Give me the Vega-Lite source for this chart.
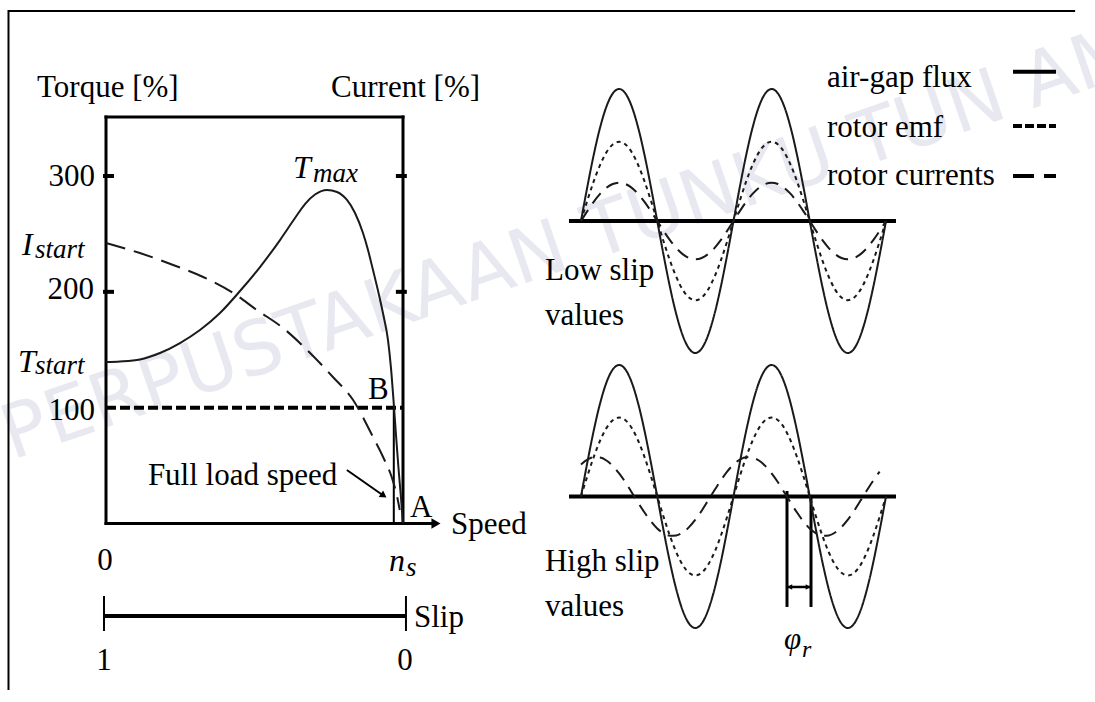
{
  "$schema": "https://vega.github.io/schema/vega-lite/v6.json",
  "width": 1095,
  "height": 702,
  "autosize": {"type": "none"},
  "padding": 0,
  "background": "white",
  "view": {"stroke": null},
  "config": {"view": {"stroke": null}, "text": {"font": "Liberation Serif", "color": "#000"}},
  "datasets": {
    "low": [
      {"x":0,"y":0,"s":"f"},{"x":15,"y":0.259,"s":"f"},{"x":30,"y":0.5,"s":"f"},{"x":45,"y":0.707,"s":"f"},{"x":60,"y":0.866,"s":"f"},{"x":75,"y":0.966,"s":"f"},{"x":90,"y":1,"s":"f"},{"x":105,"y":0.966,"s":"f"},{"x":120,"y":0.866,"s":"f"},{"x":135,"y":0.707,"s":"f"},{"x":150,"y":0.5,"s":"f"},{"x":165,"y":0.259,"s":"f"},{"x":180,"y":0,"s":"f"},{"x":195,"y":-0.259,"s":"f"},{"x":210,"y":-0.5,"s":"f"},{"x":225,"y":-0.707,"s":"f"},{"x":240,"y":-0.866,"s":"f"},{"x":255,"y":-0.966,"s":"f"},{"x":270,"y":-1,"s":"f"},{"x":285,"y":-0.966,"s":"f"},{"x":300,"y":-0.866,"s":"f"},{"x":315,"y":-0.707,"s":"f"},{"x":330,"y":-0.5,"s":"f"},{"x":345,"y":-0.259,"s":"f"},{"x":360,"y":0,"s":"f"},{"x":375,"y":0.259,"s":"f"},{"x":390,"y":0.5,"s":"f"},{"x":405,"y":0.707,"s":"f"},{"x":420,"y":0.866,"s":"f"},{"x":435,"y":0.966,"s":"f"},{"x":450,"y":1,"s":"f"},{"x":465,"y":0.966,"s":"f"},{"x":480,"y":0.866,"s":"f"},{"x":495,"y":0.707,"s":"f"},{"x":510,"y":0.5,"s":"f"},{"x":525,"y":0.259,"s":"f"},{"x":540,"y":0,"s":"f"},{"x":555,"y":-0.259,"s":"f"},{"x":570,"y":-0.5,"s":"f"},{"x":585,"y":-0.707,"s":"f"},{"x":600,"y":-0.866,"s":"f"},{"x":615,"y":-0.966,"s":"f"},{"x":630,"y":-1,"s":"f"},{"x":645,"y":-0.966,"s":"f"},{"x":660,"y":-0.866,"s":"f"},{"x":675,"y":-0.707,"s":"f"},{"x":690,"y":-0.5,"s":"f"},{"x":705,"y":-0.259,"s":"f"},{"x":720,"y":0,"s":"f"},
      {"x":0,"y":0,"s":"e"},{"x":15,"y":0.155,"s":"e"},{"x":30,"y":0.3,"s":"e"},{"x":45,"y":0.424,"s":"e"},{"x":60,"y":0.52,"s":"e"},{"x":75,"y":0.58,"s":"e"},{"x":90,"y":0.6,"s":"e"},{"x":105,"y":0.58,"s":"e"},{"x":120,"y":0.52,"s":"e"},{"x":135,"y":0.424,"s":"e"},{"x":150,"y":0.3,"s":"e"},{"x":165,"y":0.155,"s":"e"},{"x":180,"y":0,"s":"e"},{"x":195,"y":-0.155,"s":"e"},{"x":210,"y":-0.3,"s":"e"},{"x":225,"y":-0.424,"s":"e"},{"x":240,"y":-0.52,"s":"e"},{"x":255,"y":-0.58,"s":"e"},{"x":270,"y":-0.6,"s":"e"},{"x":285,"y":-0.58,"s":"e"},{"x":300,"y":-0.52,"s":"e"},{"x":315,"y":-0.424,"s":"e"},{"x":330,"y":-0.3,"s":"e"},{"x":345,"y":-0.155,"s":"e"},{"x":360,"y":0,"s":"e"},{"x":375,"y":0.155,"s":"e"},{"x":390,"y":0.3,"s":"e"},{"x":405,"y":0.424,"s":"e"},{"x":420,"y":0.52,"s":"e"},{"x":435,"y":0.58,"s":"e"},{"x":450,"y":0.6,"s":"e"},{"x":465,"y":0.58,"s":"e"},{"x":480,"y":0.52,"s":"e"},{"x":495,"y":0.424,"s":"e"},{"x":510,"y":0.3,"s":"e"},{"x":525,"y":0.155,"s":"e"},{"x":540,"y":0,"s":"e"},{"x":555,"y":-0.155,"s":"e"},{"x":570,"y":-0.3,"s":"e"},{"x":585,"y":-0.424,"s":"e"},{"x":600,"y":-0.52,"s":"e"},{"x":615,"y":-0.58,"s":"e"},{"x":630,"y":-0.6,"s":"e"},{"x":645,"y":-0.58,"s":"e"},{"x":660,"y":-0.52,"s":"e"},{"x":675,"y":-0.424,"s":"e"},{"x":690,"y":-0.3,"s":"e"},{"x":705,"y":-0.155,"s":"e"},{"x":720,"y":0,"s":"e"},
      {"x":0,"y":0,"s":"c"},{"x":15,"y":0.075,"s":"c"},{"x":30,"y":0.145,"s":"c"},{"x":45,"y":0.205,"s":"c"},{"x":60,"y":0.251,"s":"c"},{"x":75,"y":0.28,"s":"c"},{"x":90,"y":0.29,"s":"c"},{"x":105,"y":0.28,"s":"c"},{"x":120,"y":0.251,"s":"c"},{"x":135,"y":0.205,"s":"c"},{"x":150,"y":0.145,"s":"c"},{"x":165,"y":0.075,"s":"c"},{"x":180,"y":0,"s":"c"},{"x":195,"y":-0.075,"s":"c"},{"x":210,"y":-0.145,"s":"c"},{"x":225,"y":-0.205,"s":"c"},{"x":240,"y":-0.251,"s":"c"},{"x":255,"y":-0.28,"s":"c"},{"x":270,"y":-0.29,"s":"c"},{"x":285,"y":-0.28,"s":"c"},{"x":300,"y":-0.251,"s":"c"},{"x":315,"y":-0.205,"s":"c"},{"x":330,"y":-0.145,"s":"c"},{"x":345,"y":-0.075,"s":"c"},{"x":360,"y":0,"s":"c"},{"x":375,"y":0.075,"s":"c"},{"x":390,"y":0.145,"s":"c"},{"x":405,"y":0.205,"s":"c"},{"x":420,"y":0.251,"s":"c"},{"x":435,"y":0.28,"s":"c"},{"x":450,"y":0.29,"s":"c"},{"x":465,"y":0.28,"s":"c"},{"x":480,"y":0.251,"s":"c"},{"x":495,"y":0.205,"s":"c"},{"x":510,"y":0.145,"s":"c"},{"x":525,"y":0.075,"s":"c"},{"x":540,"y":0,"s":"c"},{"x":555,"y":-0.075,"s":"c"},{"x":570,"y":-0.145,"s":"c"},{"x":585,"y":-0.205,"s":"c"},{"x":600,"y":-0.251,"s":"c"},{"x":615,"y":-0.28,"s":"c"},{"x":630,"y":-0.29,"s":"c"},{"x":645,"y":-0.28,"s":"c"},{"x":660,"y":-0.251,"s":"c"},{"x":675,"y":-0.205,"s":"c"},{"x":690,"y":-0.145,"s":"c"},{"x":705,"y":-0.075,"s":"c"},{"x":720,"y":0,"s":"c"}
    ],
    "high": [
      {"x":0,"y":0,"s":"f"},{"x":15,"y":0.259,"s":"f"},{"x":30,"y":0.5,"s":"f"},{"x":45,"y":0.707,"s":"f"},{"x":60,"y":0.866,"s":"f"},{"x":75,"y":0.966,"s":"f"},{"x":90,"y":1,"s":"f"},{"x":105,"y":0.966,"s":"f"},{"x":120,"y":0.866,"s":"f"},{"x":135,"y":0.707,"s":"f"},{"x":150,"y":0.5,"s":"f"},{"x":165,"y":0.259,"s":"f"},{"x":180,"y":0,"s":"f"},{"x":195,"y":-0.259,"s":"f"},{"x":210,"y":-0.5,"s":"f"},{"x":225,"y":-0.707,"s":"f"},{"x":240,"y":-0.866,"s":"f"},{"x":255,"y":-0.966,"s":"f"},{"x":270,"y":-1,"s":"f"},{"x":285,"y":-0.966,"s":"f"},{"x":300,"y":-0.866,"s":"f"},{"x":315,"y":-0.707,"s":"f"},{"x":330,"y":-0.5,"s":"f"},{"x":345,"y":-0.259,"s":"f"},{"x":360,"y":0,"s":"f"},{"x":375,"y":0.259,"s":"f"},{"x":390,"y":0.5,"s":"f"},{"x":405,"y":0.707,"s":"f"},{"x":420,"y":0.866,"s":"f"},{"x":435,"y":0.966,"s":"f"},{"x":450,"y":1,"s":"f"},{"x":465,"y":0.966,"s":"f"},{"x":480,"y":0.866,"s":"f"},{"x":495,"y":0.707,"s":"f"},{"x":510,"y":0.5,"s":"f"},{"x":525,"y":0.259,"s":"f"},{"x":540,"y":0,"s":"f"},{"x":555,"y":-0.259,"s":"f"},{"x":570,"y":-0.5,"s":"f"},{"x":585,"y":-0.707,"s":"f"},{"x":600,"y":-0.866,"s":"f"},{"x":615,"y":-0.966,"s":"f"},{"x":630,"y":-1,"s":"f"},{"x":645,"y":-0.966,"s":"f"},{"x":660,"y":-0.866,"s":"f"},{"x":675,"y":-0.707,"s":"f"},{"x":690,"y":-0.5,"s":"f"},{"x":705,"y":-0.259,"s":"f"},{"x":720,"y":0,"s":"f"},
      {"x":0,"y":0,"s":"e"},{"x":15,"y":0.155,"s":"e"},{"x":30,"y":0.3,"s":"e"},{"x":45,"y":0.424,"s":"e"},{"x":60,"y":0.52,"s":"e"},{"x":75,"y":0.58,"s":"e"},{"x":90,"y":0.6,"s":"e"},{"x":105,"y":0.58,"s":"e"},{"x":120,"y":0.52,"s":"e"},{"x":135,"y":0.424,"s":"e"},{"x":150,"y":0.3,"s":"e"},{"x":165,"y":0.155,"s":"e"},{"x":180,"y":0,"s":"e"},{"x":195,"y":-0.155,"s":"e"},{"x":210,"y":-0.3,"s":"e"},{"x":225,"y":-0.424,"s":"e"},{"x":240,"y":-0.52,"s":"e"},{"x":255,"y":-0.58,"s":"e"},{"x":270,"y":-0.6,"s":"e"},{"x":285,"y":-0.58,"s":"e"},{"x":300,"y":-0.52,"s":"e"},{"x":315,"y":-0.424,"s":"e"},{"x":330,"y":-0.3,"s":"e"},{"x":345,"y":-0.155,"s":"e"},{"x":360,"y":0,"s":"e"},{"x":375,"y":0.155,"s":"e"},{"x":390,"y":0.3,"s":"e"},{"x":405,"y":0.424,"s":"e"},{"x":420,"y":0.52,"s":"e"},{"x":435,"y":0.58,"s":"e"},{"x":450,"y":0.6,"s":"e"},{"x":465,"y":0.58,"s":"e"},{"x":480,"y":0.52,"s":"e"},{"x":495,"y":0.424,"s":"e"},{"x":510,"y":0.3,"s":"e"},{"x":525,"y":0.155,"s":"e"},{"x":540,"y":0,"s":"e"},{"x":555,"y":-0.155,"s":"e"},{"x":570,"y":-0.3,"s":"e"},{"x":585,"y":-0.424,"s":"e"},{"x":600,"y":-0.52,"s":"e"},{"x":615,"y":-0.58,"s":"e"},{"x":630,"y":-0.6,"s":"e"},{"x":645,"y":-0.58,"s":"e"},{"x":660,"y":-0.52,"s":"e"},{"x":675,"y":-0.424,"s":"e"},{"x":690,"y":-0.3,"s":"e"},{"x":705,"y":-0.155,"s":"e"},{"x":720,"y":0,"s":"e"},
      {"x":0,"y":0.243,"s":"c"},{"x":15,"y":0.28,"s":"c"},{"x":30,"y":0.298,"s":"c"},{"x":45,"y":0.296,"s":"c"},{"x":60,"y":0.274,"s":"c"},{"x":75,"y":0.233,"s":"c"},{"x":90,"y":0.176,"s":"c"},{"x":105,"y":0.108,"s":"c"},{"x":120,"y":0.031,"s":"c"},{"x":135,"y":-0.047,"s":"c"},{"x":150,"y":-0.122,"s":"c"},{"x":165,"y":-0.189,"s":"c"},{"x":180,"y":-0.243,"s":"c"},{"x":195,"y":-0.28,"s":"c"},{"x":210,"y":-0.298,"s":"c"},{"x":225,"y":-0.296,"s":"c"},{"x":240,"y":-0.274,"s":"c"},{"x":255,"y":-0.233,"s":"c"},{"x":270,"y":-0.176,"s":"c"},{"x":285,"y":-0.108,"s":"c"},{"x":300,"y":-0.031,"s":"c"},{"x":315,"y":0.047,"s":"c"},{"x":330,"y":0.122,"s":"c"},{"x":345,"y":0.189,"s":"c"},{"x":360,"y":0.243,"s":"c"},{"x":375,"y":0.28,"s":"c"},{"x":390,"y":0.298,"s":"c"},{"x":405,"y":0.296,"s":"c"},{"x":420,"y":0.274,"s":"c"},{"x":435,"y":0.233,"s":"c"},{"x":450,"y":0.176,"s":"c"},{"x":465,"y":0.108,"s":"c"},{"x":480,"y":0.031,"s":"c"},{"x":495,"y":-0.047,"s":"c"},{"x":510,"y":-0.122,"s":"c"},{"x":525,"y":-0.189,"s":"c"},{"x":540,"y":-0.243,"s":"c"},{"x":555,"y":-0.28,"s":"c"},{"x":570,"y":-0.298,"s":"c"},{"x":585,"y":-0.296,"s":"c"},{"x":600,"y":-0.274,"s":"c"},{"x":615,"y":-0.233,"s":"c"},{"x":630,"y":-0.176,"s":"c"},{"x":645,"y":-0.108,"s":"c"},{"x":660,"y":-0.031,"s":"c"},{"x":675,"y":0.047,"s":"c"},{"x":690,"y":0.122,"s":"c"},{"x":705,"y":0.189,"s":"c"}
    ]
  },
  "resolve": {"scale": {"x": "independent", "y": "independent"}},
  "layer": [
    {
      "encoding": {
        "x": {"field": "x", "type": "quantitative", "scale": {"domain": [-35.69, 333.0], "nice": false, "zero": false}, "axis": null},
        "y": {"field": "y", "type": "quantitative", "scale": {"domain": [-154.1, 451.94], "nice": false, "zero": false}, "axis": null}
      },
      "layer": [
        {"data": {"values": [{"x": -31.65, "y": 54.8, "t": "PERPUSTAKAAN TUNKU TUN AMINAH"}]},
         "mark": {"type": "text", "align": "left", "baseline": "alphabetic", "font": "DejaVu Sans", "fontSize": 75, "angle": -19, "color": "#e8e8f1"},
         "encoding": {"text": {"field": "t"}}},
        {"data": {"values": [{"x": 326.3, "y": 442.45, "i": 1}, {"x": -32.83, "y": 442.45, "i": 2}, {"x": -32.83, "y": -143.7, "i": 3}]},
         "mark": {"type": "line", "strokeWidth": 2, "color": "#000", "interpolate": "linear"},
         "encoding": {"order": {"field": "i", "type": "quantitative"}}},
        {"data": {"values": [{"x": 0, "y": 0, "x2": 0, "y2": 351}, {"x": 0, "y": 351, "x2": 100, "y2": 351}, {"x": 100, "y": 0, "x2": 100, "y2": 351}, {"x": 0, "y": 0, "x2": 110.5, "y2": 0}]},
         "mark": {"type": "rule", "strokeWidth": 3, "color": "#000", "strokeCap": "square"},
         "encoding": {"x2": {"field": "x2"}, "y2": {"field": "y2"}}},
        {"data": {"values": [{"x": -1, "y": 300, "x2": 2.7, "y2": 300}, {"x": -1, "y": 200, "x2": 2.7, "y2": 200}, {"x": 97.6, "y": 300, "x2": 101.3, "y2": 300}, {"x": 97.6, "y": 200, "x2": 101.3, "y2": 200}, {"x": -0.67, "y": -79.9, "x2": 101, "y2": -79.9}]},
         "mark": {"type": "rule", "strokeWidth": 4, "color": "#000"},
         "encoding": {"x2": {"field": "x2"}, "y2": {"field": "y2"}}},
        {"data": {"values": [{"x": -0.67, "y": -62.6, "x2": -0.67, "y2": -92.8}, {"x": 101, "y": -62.6, "x2": 101, "y2": -92.8}, {"x": 96.9, "y": 0, "x2": 96.9, "y2": 100}, {"x": 81.1, "y": 46.2, "x2": 93.6, "y2": 23.7}]},
         "mark": {"type": "rule", "strokeWidth": 2, "color": "#000"},
         "encoding": {"x2": {"field": "x2"}, "y2": {"field": "y2"}}},
        {"data": {"values": [{"x": 0, "y": 100, "x2": 100, "y2": 100}]},
         "mark": {"type": "rule", "strokeWidth": 4, "color": "#000", "strokeDash": [10, 4]},
         "encoding": {"x2": {"field": "x2"}, "y2": {"field": "y2"}}},
        {"data": {"values": [{"x": 0, "y": 139.4}, {"x": 4.71, "y": 139.9}, {"x": 11.45, "y": 141.6}, {"x": 18.18, "y": 147.2}, {"x": 24.92, "y": 155.8}, {"x": 31.65, "y": 167.0}, {"x": 38.38, "y": 181.7}, {"x": 45.12, "y": 200.7}, {"x": 51.85, "y": 221.4}, {"x": 58.59, "y": 244.7}, {"x": 63.64, "y": 263.7}, {"x": 67.0, "y": 275.8}, {"x": 70.37, "y": 284.0}, {"x": 74.41, "y": 287.9}, {"x": 77.78, "y": 286.2}, {"x": 81.14, "y": 279.3}, {"x": 83.84, "y": 268.1}, {"x": 86.53, "y": 250.8}, {"x": 88.22, "y": 236.1}, {"x": 89.9, "y": 218.8}, {"x": 91.92, "y": 197.3}, {"x": 93.6, "y": 177.4}, {"x": 94.95, "y": 158.4}, {"x": 95.96, "y": 134.2}, {"x": 96.8, "y": 106.6}, {"x": 97.64, "y": 76.4}, {"x": 98.48, "y": 47.9}, {"x": 99.33, "y": 22.0}, {"x": 100, "y": 0}]},
         "mark": {"type": "line", "strokeWidth": 2, "color": "#1a1a1a", "interpolate": "monotone"}},
        {"data": {"values": [{"x": 0, "y": 242.2}, {"x": 11.4, "y": 233.5}, {"x": 22.6, "y": 223.2}, {"x": 32.7, "y": 212.8}, {"x": 42.8, "y": 199.0}, {"x": 50.8, "y": 184.3}, {"x": 59.6, "y": 168.8}, {"x": 67.7, "y": 149.8}, {"x": 76.4, "y": 126.5}, {"x": 83.2, "y": 106.6}, {"x": 89.9, "y": 74.7}, {"x": 93.3, "y": 57.4}, {"x": 96.3, "y": 39.3}, {"x": 97.9, "y": 24.6}, {"x": 98.9, "y": 11.7}]},
         "mark": {"type": "line", "strokeWidth": 2, "color": "#1a1a1a", "interpolate": "monotone", "strokeDash": [20, 9]}},
        {"data": {"values": [{"x": 111.1, "y": 0}]},
         "mark": {"type": "point", "shape": "triangle-right", "size": 110, "filled": true, "color": "#000", "opacity": 1}},
        {"data": {"values": [{"x": 93.5, "y": 24.0}]},
         "mark": {"type": "point", "shape": "triangle-right", "angle": 35, "size": 60, "filled": true, "color": "#000", "opacity": 1}},
        {"data": {"values": [{"x": -23.2, "y": 368.2, "t": "Torque [%]"}, {"x": 75.8, "y": 368.2, "t": "Current [%]"}, {"x": 88.2, "y": 107.5, "t": "B"}, {"x": 102.4, "y": 5.6, "t": "A"}, {"x": 116.2, "y": -9.1, "t": "Speed"}, {"x": 14.1, "y": 33.2, "t": "Full load speed"}, {"x": 103.7, "y": -89.4, "t": "Slip"}]},
         "mark": {"type": "text", "align": "left", "baseline": "alphabetic", "fontSize": 31},
         "encoding": {"text": {"field": "t"}}},
        {"data": {"values": [{"x": -3.7, "y": 291.4, "t": "300"}, {"x": -4.0, "y": 193.8, "t": "200"}, {"x": -3.7, "y": 89.0, "t": "100"}]},
         "mark": {"type": "text", "align": "right", "baseline": "alphabetic", "fontSize": 31},
         "encoding": {"text": {"field": "t"}}},
        {"data": {"values": [{"x": -0.3, "y": -40.1, "t": "0"}, {"x": -0.67, "y": -126.5, "t": "1"}, {"x": 100.7, "y": -126.5, "t": "0"}]},
         "mark": {"type": "text", "align": "center", "baseline": "alphabetic", "fontSize": 31},
         "encoding": {"text": {"field": "t"}}},
        {"data": {"values": [{"x": 63.0, "y": 298.3, "t": "T"}, {"x": -28.3, "y": 231.8, "t": "I"}, {"x": -29.6, "y": 130.8, "t": "T"}, {"x": 95.3, "y": -41.0, "t": "n"}]},
         "mark": {"type": "text", "align": "left", "baseline": "alphabetic", "fontSize": 32, "fontStyle": "italic"},
         "encoding": {"text": {"field": "t"}}},
        {"data": {"values": [{"x": 69.7, "y": 294.8, "t": "max"}, {"x": -23.9, "y": 229.6, "t": "start"}, {"x": -23.9, "y": 129.1, "t": "start"}, {"x": 101.0, "y": -45.3, "t": "s"}]},
         "mark": {"type": "text", "align": "left", "baseline": "alphabetic", "fontSize": 27, "fontStyle": "italic"},
         "encoding": {"text": {"field": "t"}}}
      ]
    },
    {
      "encoding": {
        "x": {"field": "x", "type": "quantitative", "scale": {"domain": [-1371.5, 1213.4], "nice": false, "zero": false}, "axis": null},
        "y": {"field": "y", "type": "quantitative", "scale": {"domain": [-3.6439, 1.6742], "nice": false, "zero": false}, "axis": null}
      },
      "layer": [
        {"data": {"values": [{"x": -28.3, "y": 0, "x2": 743.6, "y2": 0}, {"x": 1019.8, "y": 1.131, "x2": 1121.3, "y2": 1.131}]},
         "mark": {"type": "rule", "strokeWidth": 4, "color": "#000"},
         "encoding": {"x2": {"field": "x2"}, "y2": {"field": "y2"}}},
        {"data": {"values": [{"x": 1019.8, "y": 0.72, "x2": 1121.3, "y2": 0.72}]},
         "mark": {"type": "rule", "strokeWidth": 4, "color": "#000", "strokeDash": [9, 3]},
         "encoding": {"x2": {"field": "x2"}, "y2": {"field": "y2"}}},
        {"data": {"values": [{"x": 1019.8, "y": 0.341, "x2": 1121.3, "y2": 0.341}]},
         "mark": {"type": "rule", "strokeWidth": 4, "color": "#000", "strokeDash": [21, 10]},
         "encoding": {"x2": {"field": "x2"}, "y2": {"field": "y2"}}},
        {"data": {"name": "low"},
         "mark": {"type": "line", "strokeWidth": 2, "color": "#1a1a1a", "interpolate": "monotone"},
         "encoding": {
           "detail": {"field": "s", "type": "nominal"},
           "strokeDash": {"field": "s", "type": "nominal", "scale": {"domain": ["f", "e", "c"], "range": [[1, 0], [4, 4], [13, 8]]}, "legend": null}
         }},
        {"data": {"values": [{"x": 580.7, "y": 1.015, "t": "air-gap flux"}, {"x": 580.7, "y": 0.636, "t": "rotor emf"}, {"x": 580.7, "y": 0.273, "t": "rotor currents"}, {"x": -85.0, "y": -0.447, "t": "Low slip"}, {"x": -85.0, "y": -0.788, "t": "values"}]},
         "mark": {"type": "text", "align": "left", "baseline": "alphabetic", "fontSize": 31},
         "encoding": {"text": {"field": "t"}}}
      ]
    },
    {
      "encoding": {
        "x": {"field": "x", "type": "quantitative", "scale": {"domain": [-1371.5, 1213.4], "nice": false, "zero": false}, "axis": null},
        "y": {"field": "y", "type": "quantitative", "scale": {"domain": [-1.5627, 3.7757], "nice": false, "zero": false}, "axis": null}
      },
      "layer": [
        {"data": {"values": [{"x": -28.3, "y": 0, "x2": 743.6, "y2": 0}]},
         "mark": {"type": "rule", "strokeWidth": 4, "color": "#000"},
         "encoding": {"x2": {"field": "x2"}, "y2": {"field": "y2"}}},
        {"data": {"values": [{"x": 486.3, "y": 0.042, "x2": 486.3, "y2": -0.84}, {"x": 543.0, "y": 0, "x2": 543.0, "y2": -0.84}]},
         "mark": {"type": "rule", "strokeWidth": 3, "color": "#000"},
         "encoding": {"x2": {"field": "x2"}, "y2": {"field": "y2"}}},
        {"data": {"values": [{"x": 486.3, "y": -0.688, "x2": 543.0, "y2": -0.688}]},
         "mark": {"type": "rule", "strokeWidth": 2.5, "color": "#000"},
         "encoding": {"x2": {"field": "x2"}, "y2": {"field": "y2"}}},
        {"data": {"values": [{"x": 493, "y": -0.688}]},
         "mark": {"type": "point", "shape": "triangle-left", "size": 30, "filled": true, "color": "#000", "opacity": 1}},
        {"data": {"values": [{"x": 536, "y": -0.688}]},
         "mark": {"type": "point", "shape": "triangle-right", "size": 30, "filled": true, "color": "#000", "opacity": 1}},
        {"data": {"name": "high"},
         "mark": {"type": "line", "strokeWidth": 2, "color": "#1a1a1a", "interpolate": "monotone"},
         "encoding": {
           "detail": {"field": "s", "type": "nominal"},
           "strokeDash": {"field": "s", "type": "nominal", "scale": {"domain": ["f", "e", "c"], "range": [[1, 0], [4, 4], [13, 8]]}, "legend": null}
         }},
        {"data": {"values": [{"x": -85.0, "y": -0.57, "t": "High slip"}, {"x": -85.0, "y": -0.909, "t": "values"}]},
         "mark": {"type": "text", "align": "left", "baseline": "alphabetic", "fontSize": 31},
         "encoding": {"text": {"field": "t"}}},
        {"data": {"values": [{"x": 479.2, "y": -1.16, "t": "φ"}]},
         "mark": {"type": "text", "align": "left", "baseline": "alphabetic", "fontSize": 31, "fontStyle": "italic"},
         "encoding": {"text": {"field": "t"}}},
        {"data": {"values": [{"x": 521.7, "y": -1.221, "t": "r"}]},
         "mark": {"type": "text", "align": "left", "baseline": "alphabetic", "fontSize": 24, "fontStyle": "italic"},
         "encoding": {"text": {"field": "t"}}}
      ]
    }
  ]
}
